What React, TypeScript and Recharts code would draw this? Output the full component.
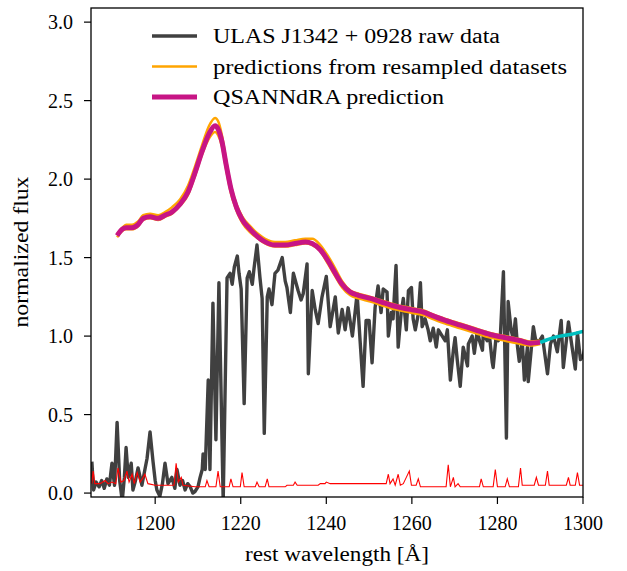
import React from 'react';
import { LineChart, Line, XAxis, YAxis } from 'recharts';

// raw spectrum (rest wavelength in Angstrom, normalized flux)
const rawWave = [
  1185.2, 1185.6, 1186.2, 1186.9, 1187.5, 1188.1, 1188.7, 1189.3, 1189.9, 1190.5,
  1191.1, 1191.7, 1192.3, 1192.8, 1193.2, 1193.7, 1194.4, 1194.8, 1195.4, 1196.0,
  1196.9, 1197.6, 1198.1, 1198.8, 1199.5, 1200.0, 1200.4, 1201.1, 1201.7, 1202.3,
  1203.0, 1203.9, 1204.6, 1205.1, 1205.8, 1206.4, 1207.0, 1207.6, 1208.2, 1208.8,
  1209.3, 1210.0, 1210.5, 1211.0, 1211.2, 1211.7, 1212.4, 1212.8, 1213.5, 1214.2,
  1214.9, 1215.9, 1216.8, 1217.5, 1218.0, 1218.5, 1219.2, 1219.6, 1220.1, 1220.8,
  1221.5, 1222.0, 1222.7, 1223.1, 1223.8, 1224.5, 1225.0, 1225.5, 1226.2, 1226.6,
  1227.3, 1228.0, 1228.7, 1229.7, 1230.4, 1230.8, 1231.6, 1232.3, 1233.0, 1233.4,
  1234.1, 1234.6, 1235.5, 1235.8, 1236.7, 1237.4, 1238.1, 1239.0, 1240.0, 1240.9,
  1242.1, 1242.8, 1243.7, 1244.4, 1245.1, 1246.1, 1246.8, 1247.2, 1247.9, 1248.6,
  1249.3, 1250.0, 1250.7, 1251.4, 1252.1, 1252.8, 1253.3, 1254.2, 1254.5, 1255.2,
  1255.6, 1256.3, 1256.8, 1257.5, 1258.0, 1258.7, 1259.2, 1259.9, 1260.3, 1260.8,
  1261.5, 1262.0, 1262.4, 1263.1, 1263.8, 1264.3, 1265.0, 1265.7, 1266.2, 1267.1,
  1267.8, 1268.3, 1269.0, 1269.7, 1270.1, 1270.6, 1271.3, 1272.0, 1272.5, 1273.0,
  1273.2, 1274.1, 1274.6, 1275.3, 1275.8, 1276.5, 1276.7, 1277.6, 1278.1, 1278.8,
  1279.0, 1279.7, 1280.2, 1280.7, 1281.4, 1282.1, 1282.5, 1283.2, 1283.7, 1284.2,
  1284.7, 1285.1, 1285.8, 1286.3, 1287.0, 1287.2, 1288.4, 1288.9, 1289.6, 1290.5,
  1291.7, 1292.4, 1293.1, 1294.0, 1294.9, 1295.4, 1296.6, 1297.5, 1298.2, 1298.7,
  1299.4, 1300.1, 1300.6,
];
const rawFlux = [
  0.2, 0.02, 0.07, 0.04, 0.08, 0.03, 0.09, 0.05, 0.19, 0.05,
  0.45, 0.08, -0.05, 0.1, 0.29, 0.1, 0.19, 0.02, 0.08, 0.16,
  0.05, 0.15, 0.22, 0.39, 0.2, 0.08, 0.02, -0.02, 0.06, 0.19,
  0.06, 0.1, 0.03, 0.15, 0.05, 0.08, 0.02, 0.06, 0.04, 0.0,
  0.01, 0.04, 0.1, 0.15, 0.25, 0.15, 0.72, 0.15, 1.21, 0.34,
  1.34, -0.05, 1.37, 1.4, 1.33, 1.44, 1.51, 1.4, 1.3, 0.57,
  1.37, 1.41, 1.33, 1.43, 1.58, 1.37, 1.24, 0.38, 1.25, 1.3,
  1.2, 1.4, 1.42, 1.5, 1.35, 1.31, 1.15, 1.4, 1.33, 1.29,
  1.23, 1.27, 1.46, 0.76, 1.29, 1.17, 1.08, 1.25, 1.38, 1.06,
  1.25, 1.02, 1.17, 1.04, 1.18, 1.0, 1.17, 1.27, 0.97, 0.68,
  1.1, 1.1, 0.83, 1.18, 1.32, 1.15, 1.3, 1.28, 1.0, 1.15,
  1.11, 1.45, 0.93, 1.15, 1.24, 1.04, 1.29, 1.31, 1.11, 1.04,
  1.14, 1.34, 1.06, 1.11, 1.04, 0.97, 1.05, 0.93, 1.04, 1.0,
  0.97, 1.04, 0.72, 0.91, 0.99, 0.85, 0.68, 0.93, 0.87, 0.81,
  0.95, 1.0, 0.89, 1.04, 0.97, 0.91, 1.02, 0.97, 1.01, 0.83,
  0.8, 1.0, 0.97, 1.01, 1.41, 0.35, 1.22, 1.04, 0.98, 1.11,
  0.93, 0.84, 0.97, 0.72, 0.93, 0.71, 1.06, 0.98, 0.96, 1.0,
  0.76, 0.95, 1.0, 0.9, 1.1, 0.8, 1.09, 0.92, 0.79, 1.02,
  0.85, 0.88, 0.95,
];

// noise spectrum (red)
const noiseWave = [
  1185.2, 1185.5, 1185.9, 1187.1, 1188.3, 1189.0, 1189.9, 1190.8, 1191.3, 1192.0,
  1192.7, 1193.4, 1193.9, 1194.6, 1195.1, 1195.8, 1196.5, 1197.2, 1197.6, 1198.3,
  1200.0, 1202.3, 1204.4, 1204.9, 1205.4, 1206.1, 1206.5, 1209.3, 1211.7, 1212.1,
  1212.6, 1214.2, 1214.7, 1215.2, 1217.3, 1217.7, 1218.2, 1219.9, 1220.3, 1220.8,
  1223.4, 1223.8, 1224.3, 1225.7, 1226.2, 1226.6, 1230.4, 1230.8, 1232.3, 1232.7,
  1233.2, 1238.1, 1238.6, 1239.7, 1240.0, 1240.9, 1252.6, 1254.0, 1254.5, 1254.9,
  1255.6, 1256.1, 1256.8, 1257.3, 1258.0, 1258.7, 1259.4, 1259.9, 1261.0, 1261.5,
  1262.0, 1268.0, 1268.5, 1269.0, 1269.7, 1270.1, 1270.8, 1271.3, 1275.8, 1276.2,
  1276.7, 1279.0, 1279.5, 1280.0, 1281.8, 1282.3, 1282.8, 1284.9, 1285.4, 1285.8,
  1288.6, 1289.1, 1289.6, 1291.2, 1291.7, 1292.1, 1296.1, 1296.6, 1297.0, 1298.2,
  1298.7, 1299.2, 1300.1,
];
const noiseFlux = [
  0.06, 0.14, 0.06, 0.06, 0.08, 0.06, 0.07, 0.06, 0.16, 0.07,
  0.08, 0.14, 0.07, 0.12, 0.06, 0.13, 0.07, 0.1, 0.12, 0.06,
  0.05, 0.05, 0.05, 0.19, 0.07, 0.1, 0.05, 0.04, 0.04, 0.08,
  0.04, 0.04, 0.14, 0.04, 0.04, 0.09, 0.04, 0.04, 0.13, 0.04,
  0.04, 0.07, 0.04, 0.04, 0.09, 0.04, 0.04, 0.05, 0.05, 0.07,
  0.05, 0.05, 0.06, 0.06, 0.07, 0.06, 0.06, 0.06, 0.12, 0.06,
  0.09, 0.05, 0.12, 0.05, 0.06, 0.1, 0.14, 0.05, 0.05, 0.09,
  0.04, 0.04, 0.18, 0.04, 0.1, 0.04, 0.06, 0.04, 0.04, 0.09,
  0.04, 0.04, 0.15, 0.04, 0.04, 0.09, 0.04, 0.04, 0.16, 0.05,
  0.05, 0.1, 0.05, 0.05, 0.14, 0.05, 0.05, 0.1, 0.05, 0.05,
  0.13, 0.05, 0.05,
];

// QSANNdRA blue-side prediction and two resampled predictions
const predWave = [
  1191.1, 1192.3, 1193.2, 1194.6, 1196.0, 1197.2, 1198.8, 1200.7, 1202.3, 1203.9,
  1205.8, 1207.7, 1209.3, 1211.0, 1212.6, 1214.0, 1214.7, 1215.6, 1216.6, 1217.7,
  1219.0, 1220.4, 1222.2, 1224.1, 1225.7, 1228.0, 1230.4, 1232.7, 1235.1, 1236.7,
  1238.6, 1240.4, 1242.1, 1243.7, 1245.6, 1247.5, 1250.3, 1252.6, 1256.1, 1259.6,
  1263.1, 1264.8, 1267.8, 1271.3, 1274.8, 1278.3, 1281.8, 1285.4, 1287.7, 1290.0,
];
const predFlux = [
  1.64, 1.68, 1.69, 1.69, 1.71, 1.75, 1.76, 1.75, 1.77, 1.79,
  1.84, 1.92, 2.04, 2.18, 2.29, 2.34, 2.32, 2.24, 2.09, 1.94,
  1.82, 1.74, 1.68, 1.63, 1.6, 1.58, 1.58, 1.59, 1.6, 1.59,
  1.55, 1.48, 1.4, 1.33, 1.28, 1.26, 1.24, 1.22, 1.19, 1.17,
  1.15, 1.13, 1.1, 1.07, 1.04, 1.01, 0.99, 0.97, 0.955, 0.96,
];
const resampHigh = [
  1.65, 1.69, 1.71, 1.71, 1.73, 1.77, 1.78, 1.77, 1.79, 1.82,
  1.87, 1.96, 2.08, 2.22, 2.34, 2.39, 2.37, 2.28, 2.12, 1.96,
  1.84, 1.76, 1.7, 1.65, 1.62, 1.6, 1.6, 1.61, 1.62, 1.62,
  1.58, 1.51, 1.43, 1.35, 1.29, 1.27, 1.25, 1.23, 1.2, 1.18,
  1.16, 1.14, 1.11, 1.08, 1.05, 1.02, 1.0, 0.98, 0.965, 0.97,
];
const resampLow = [
  1.63, 1.67, 1.68, 1.68, 1.7, 1.74, 1.75, 1.74, 1.76, 1.78,
  1.83, 1.9, 2.02, 2.16, 2.26, 2.3, 2.28, 2.21, 2.06, 1.91,
  1.8, 1.72, 1.66, 1.62, 1.59, 1.57, 1.57, 1.58, 1.59, 1.58,
  1.54, 1.46, 1.38, 1.31, 1.26, 1.24, 1.22, 1.2, 1.17, 1.15,
  1.13, 1.11, 1.08, 1.05, 1.02, 0.99, 0.97, 0.95, 0.94, 0.95,
];

// red-side continuum (cyan)
const contWave = [1290.0, 1291.5, 1293.1, 1294.7, 1297.0, 1300.1, 1301.0];
const contFlux = [0.96, 0.975, 0.99, 1.0, 1.01, 1.03, 1.035];

const xTicks = [1200, 1220, 1240, 1260, 1280, 1300];
const yTicks = [0, 0.5, 1, 1.5, 2, 2.5, 3];

const legendItems = [
  { label: 'ULAS J1342 + 0928 raw data', color: '#404040', width: 3.5, textLen: 287 },
  { label: 'predictions from resampled datasets', color: '#ffa500', width: 2.5, textLen: 354 },
  { label: 'QSANNdRA prediction', color: '#c71585', width: 5, textLen: 231 },
];

const FONT = "'Liberation Serif', 'DejaVu Serif', 'Times New Roman', serif";

const toPoints = (xs: number[], ys: number[]) => xs.map((x, i) => ({ x, y: ys[i] }));

export default function App() {
  const rawData = toPoints(rawWave, rawFlux);
  const noiseData = toPoints(noiseWave, noiseFlux);
  const predData = toPoints(predWave, predFlux);
  const highData = toPoints(predWave, resampHigh);
  const lowData = toPoints(predWave, resampLow);
  const contData = toPoints(contWave, contFlux);

  const tickStyle = { fill: '#000', fontSize: 20, style: { fontFamily: FONT } };
  const tickLine = { stroke: '#000', strokeWidth: 1.2 };
  const textStyle = { fontFamily: FONT };

  return (
    <div style={{ position: 'absolute', left: 0, top: 0, width: 627, height: 571, background: '#fff', fontFamily: FONT }}>
      <LineChart width={627} height={571} margin={{ top: 8, right: 44, bottom: 34, left: 31 }}>
        <XAxis
          type="number"
          dataKey="x"
          domain={[1185, 1300]}
          allowDataOverflow
          ticks={xTicks}
          tickSize={7}
          tickMargin={12}
          height={40}
          axisLine={false}
          tickLine={tickLine}
          tick={tickStyle}
        />
        <YAxis
          type="number"
          domain={[-0.025, 3.09]}
          allowDataOverflow
          ticks={yTicks}
          tickFormatter={(v: number) => v.toFixed(1)}
          tickSize={7}
          tickMargin={11}
          width={60}
          axisLine={false}
          tickLine={tickLine}
          tick={tickStyle}
        />
        <Line data={rawData} dataKey="y" stroke="#404040" strokeWidth={3.4} strokeLinejoin="round" dot={false} activeDot={false} isAnimationActive={false} />
        <Line data={noiseData} dataKey="y" stroke="#ff0000" strokeWidth={1.1} dot={false} activeDot={false} isAnimationActive={false} />
        <Line data={highData} dataKey="y" stroke="#ffa500" strokeWidth={2.5} strokeLinejoin="round" type="monotone" dot={false} activeDot={false} isAnimationActive={false} />
        <Line data={lowData} dataKey="y" stroke="#ffa500" strokeWidth={2.5} strokeLinejoin="round" type="monotone" dot={false} activeDot={false} isAnimationActive={false} />
        <Line data={predData} dataKey="y" stroke="#c71585" strokeWidth={5} strokeLinejoin="round" type="monotone" dot={false} activeDot={false} isAnimationActive={false} />
        <Line data={contData} dataKey="y" stroke="#00bfbf" strokeWidth={3.5} type="monotone" dot={false} activeDot={false} isAnimationActive={false} />
      </LineChart>
      <svg width={627} height={571} style={{ position: 'absolute', left: 0, top: 0, pointerEvents: 'none' }}>
        <rect x={91} y={8} width={492} height={489} fill="none" stroke="#000" strokeWidth={1.3} />
        {legendItems.map((item, i) => (
          <g key={item.label}>
            <line x1={152} x2={197} y1={36 + i * 30.5} y2={36 + i * 30.5} stroke={item.color} strokeWidth={item.width} />
            <text
              x={213}
              y={43 + i * 30.5}
              style={textStyle}
              fontSize={20}
              fill="#000"
              textLength={item.textLen}
              lengthAdjust="spacingAndGlyphs"
            >
              {item.label}
            </text>
          </g>
        ))}
        <text x={337} y={561} textAnchor="middle" style={textStyle} fontSize={20} fill="#000" textLength={184} lengthAdjust="spacingAndGlyphs">
          rest wavelength [Å]
        </text>
        <text
          x={0}
          y={0}
          transform="translate(28 252) rotate(-90)"
          textAnchor="middle"
          style={textStyle}
          fontSize={20}
          fill="#000"
          textLength={151}
          lengthAdjust="spacingAndGlyphs"
        >
          normalized flux
        </text>
      </svg>
    </div>
  );
}
